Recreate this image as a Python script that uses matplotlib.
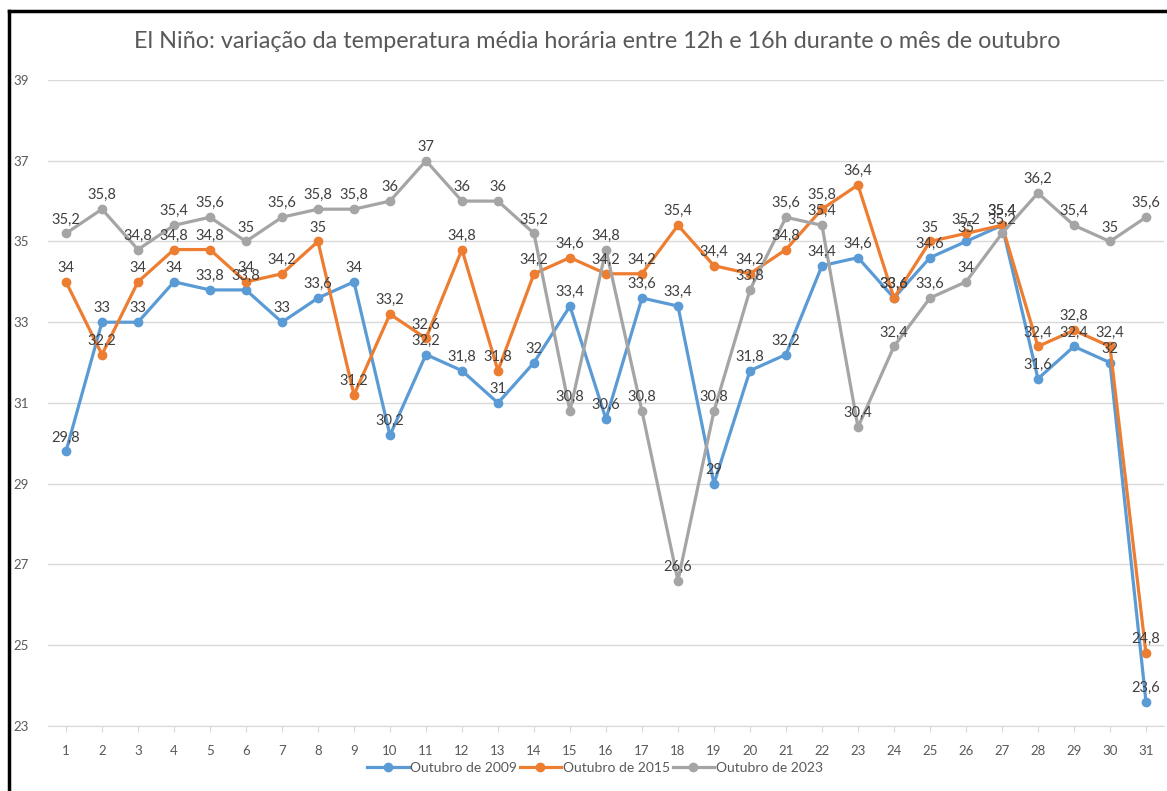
import matplotlib.pyplot as plt
from matplotlib.lines import Line2D
import numpy as np

plt.rcParams['font.family'] = ['Lato', 'DejaVu Sans']

# dias do mês de outubro
days = list(range(1, 32))

# temperatura média horária (12h-16h)
temp_2009 = [29.8, 33, 33, 34, 33.8, 33.8, 33, 33.6, 34, 30.2,
             32.2, 31.8, 31, 32, 33.4, 30.6, 33.6, 33.4, 29, 31.8,
             32.2, 34.4, 34.6, 33.6, 34.6, 35, 35.4, 31.6, 32.4, 32,
             23.6]
temp_2015 = [34, 32.2, 34, 34.8, 34.8, 34, 34.2, 35, 31.2, 33.2,
             32.6, 34.8, 31.8, 34.2, 34.6, 34.2, 34.2, 35.4, 34.4, 34.2,
             34.8, 35.8, 36.4, 33.6, 35, 35.2, 35.4, 32.4, 32.8, 32.4,
             24.8]
temp_2023 = [35.2, 35.8, 34.8, 35.4, 35.6, 35, 35.6, 35.8, 35.8, 36,
             37, 36, 36, 35.2, 30.8, 34.8, 30.8, 26.6, 30.8, 33.8,
             35.6, 35.4, 30.4, 32.4, 33.6, 34, 35.2, 36.2, 35.4, 35,
             35.6]

series = [
    ('Outubro de 2009', temp_2009, '#5B9BD5'),
    ('Outubro de 2015', temp_2015, '#ED7D31'),
    ('Outubro de 2023', temp_2023, '#A5A5A5'),
]

fig = plt.figure(figsize=(11.67, 7.91), dpi=100)
ax = fig.add_axes([0.0411, 0.0822, 0.9563, 0.8167])

for label, values, color in series:
    ax.plot(days, values, color=color, lw=2.3, marker='o', markersize=6,
            label=label, zorder=3)
    # rótulos de dados acima dos pontos
    for d, v in zip(days, values):
        txt = f'{v:g}'.replace('.', ',')
        ax.annotate(txt, (d, v), xytext=(0, 5), textcoords='offset points',
                    ha='center', va='bottom', fontsize=10.5, color='#404040',
                    zorder=4)

ax.set_xlim(0.5, 31.5)
ax.set_ylim(23, 39)
ax.set_yticks(np.arange(23, 40, 2))
ax.set_xticks(days)
ax.grid(axis='y', color='#D9D9D9', lw=1)
ax.set_axisbelow(True)
for s in ['top', 'right', 'left']:
    ax.spines[s].set_visible(False)
ax.spines['bottom'].set_color('#D9D9D9')
ax.tick_params(axis='y', length=0, labelsize=9.5, labelcolor='#595959', pad=14)
ax.tick_params(axis='x', length=4, color='#D9D9D9', labelsize=9.5,
               labelcolor='#595959', pad=10)

fig.text(0.512, 0.947, 'El Niño: variação da temperatura média horária entre 12h e 16h durante o mês de outubro',
         ha='center', va='center', fontsize=16.8, color='#595959')

ax.legend(loc='center', bbox_to_anchor=(0.49, -0.065), ncol=3, frameon=False,
          fontsize=10, labelcolor='#595959', handlelength=3, handletextpad=0.1,
          columnspacing=0.2, borderaxespad=0)

# moldura preta (só topo e esquerda aparecem no recorte)
fig.add_artist(Line2D([0.008, 1.0], [0.986, 0.986], color='black', lw=2.5,
                      transform=fig.transFigure))
fig.add_artist(Line2D([0.008, 0.008], [0.0, 0.986], color='black', lw=2.5,
                      transform=fig.transFigure))

fig.savefig('out.png', dpi=100)
